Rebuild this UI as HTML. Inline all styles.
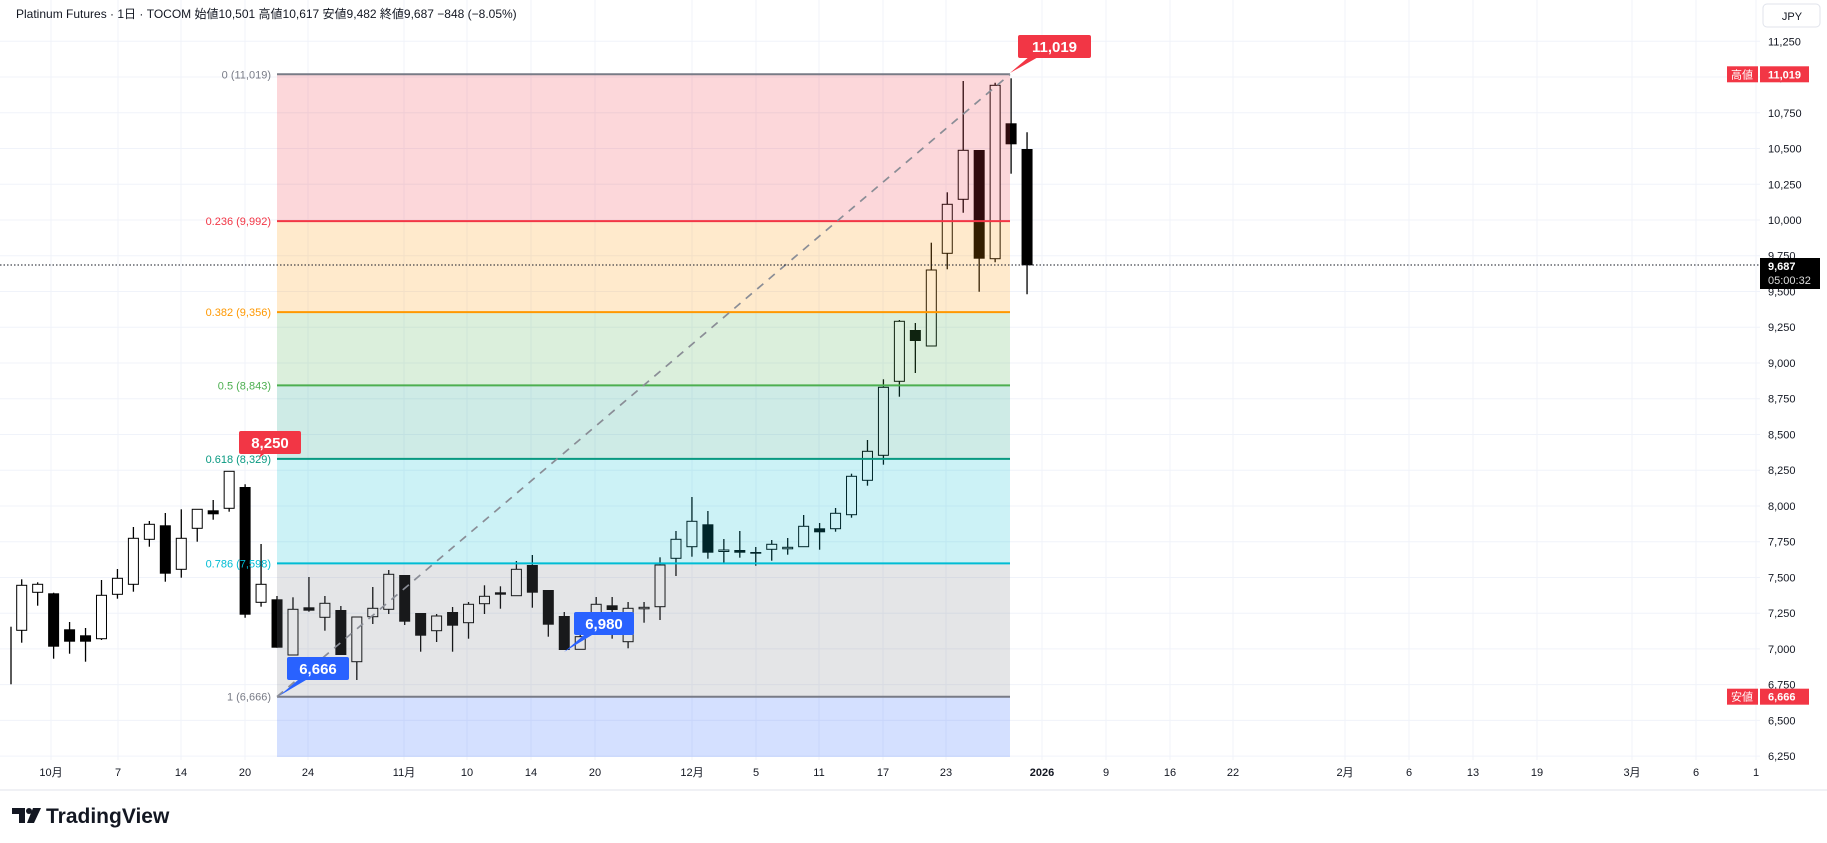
<!DOCTYPE html>
<html><head><meta charset="utf-8"><style>
html,body{margin:0;padding:0;background:#fff;width:1827px;height:843px;overflow:hidden}
svg{display:block;font-family:"Liberation Sans","Noto Sans CJK JP",sans-serif}
</style></head><body>
<svg id="s" width="1827" height="843" xmlns="http://www.w3.org/2000/svg"></svg>
<script>
const s=document.getElementById('s');let h='';
const Y=p=>74.3+(11019-p)*0.14298;
const X=i=>21.7+15.958*i;
for(let p=6250;p<=11250;p+=250){const y=Y(p);h+=`<line x1="0" x2="1760" y1="${y}" y2="${y}" stroke="#f0f3fa"/>`;}
const tl=[[51,'10月'],[118,'7'],[181,'14'],[245,'20'],[308,'24'],[404,'11月'],[467,'10'],[531,'14'],[595,'20'],[692,'12月'],[756,'5'],[819,'11'],[883,'17'],[946,'23'],[1042,'2026'],[1106,'9'],[1170,'16'],[1233,'22'],[1345,'2月'],[1409,'6'],[1473,'13'],[1537,'19'],[1632,'3月'],[1696,'6'],[1756,'1']];
tl.forEach(([x,t])=>{h+=`<line x1="${x}" x2="${x}" y1="0" y2="760" stroke="#f0f3fa"/>`;h+=`<text x="${x}" y="776" font-size="11" text-anchor="middle" fill="#131722" ${t=='2026'?'font-weight="bold"':''}>${t}</text>`;});
h+=`<line x1="0" x2="1827" y1="790" y2="790" stroke="#e0e3eb"/>`;
const c=[[0,585.3,630.3,579.3,642.7,1],[1,584.3,592.3,582.3,605.7,1],[2,593.3,646.7,592.7,658.7,0],[3,629.3,641.7,622,653.7,0],[4,635.3,641.7,628,661.7,0],[5,595.3,638.7,580,640,1],[6,578.3,594.3,569,598.7,1],[7,538.3,584.3,527,591.7,1],[8,524.3,539.3,521,546.7,1],[9,525.3,573.7,513,581.7,0],[10,538.3,569.3,509.3,577.7,1],[11,509.3,528.3,509.3,541.7,1],[12,510.3,514.3,500,519.7,0],[13,471.3,508.3,471.3,511.7,1],[14,487,614.7,484.3,617.7,0],[15,584.3,602.3,544,606.7,1],[16,599.3,647.7,596,647.7,0],[17,609.3,655,597.3,655,1],[18,607.3,610.7,577,611.7,0],[19,603.3,617.3,596,630.7,1],[20,610,655,606,655,0],[21,617,661.7,617,680,1],[22,608.3,616.7,587,624,1],[23,574.3,609.3,570,614,1],[24,575,621.7,575,625,0],[25,613,635.7,613,651.7,0],[26,616,630.7,614,642,1],[27,612,625.7,607,651.7,0],[28,604.3,622.7,602,638.7,1],[29,596.3,603.7,585.3,614,1],[30,592.3,594.7,586.3,608.7,0],[31,569.3,595.7,561,595.7,1],[32,565,592.7,555,607.7,0],[33,590,624.7,590,636.7,0],[34,616,650,612,650,0],[35,636.7,649.3,630,649.3,1],[36,604.3,618,597,625,1],[37,605.3,610,597,638.7,0],[38,608.3,641.7,602,648.3,1],[39,607.3,607.8,602,622.7,1],[40,565,606.7,557.3,620,1],[41,539.3,558.3,531,576,1],[42,521.3,546.7,497,556.7,1],[43,524.3,552.7,511,558.7,0],[44,550,550.5,539,562.7,1],[45,550,552.7,531,557.7,0],[46,552,553.7,547,565.7,0],[47,544.3,549.3,540,560.7,1],[48,547.3,547.8,538,554.7,1],[49,526.3,546.7,515,546.7,1],[50,528.3,532.3,523,549.7,0],[51,513.3,528.7,508,531.7,1],[52,476.3,514.7,473.7,517.7,1],[53,451.3,480.3,440,485.7,1],[54,387.3,455.3,379.3,464.7,1],[55,321.3,381.3,320,396.7,1],[56,330,341,323,373,0],[57,270,346,242.7,346,1],[58,204.3,253.3,192.3,269.3,1],[59,150.3,199.3,81,212.7,1],[60,150,258.7,150,291.7,0],[61,85.3,258.7,82.7,262.3,1],[62,123.3,144.3,78.3,173.7,0],[63,149,265.3,132.3,294.3,0]];
h+=`<line x1="11" x2="11" y1="626.7" y2="684.3" stroke="#000" stroke-width="1.3"/>`;
c.forEach(([i,t,b,hi,lo,u])=>{const x=X(i);h+=`<line x1="${x}" x2="${x}" y1="${hi}" y2="${lo}" stroke="#000" stroke-width="1.3"/>`;
const bh=Math.max(b-t,1.5);
if(u)h+=`<rect x="${x-5}" y="${t}" width="10" height="${bh}" fill="#fff" stroke="#000" stroke-width="1"/>`;else h+=`<rect x="${x-5.5}" y="${t}" width="11" height="${bh}" fill="#000"/>`;});
const x1=277,x2=1010;
const lv=[[0,11019,'#787b86','0 (11,019)'],[0.236,9992,'#f23645','0.236 (9,992)'],[0.382,9356,'#ff9800','0.382 (9,356)'],[0.5,8843,'#4caf50','0.5 (8,843)'],[0.618,8329,'#089981','0.618 (8,329)'],[0.786,7598,'#00bcd4','0.786 (7,598)'],[1,6666,'#787b86','1 (6,666)']];
const fills=['#f23645','#ff9800','#4caf50','#089981','#00bcd4','#787b86'];
for(let k=0;k<6;k++){const a=Y(lv[k][1]),b=Y(lv[k+1][1]);h+=`<rect x="${x1}" y="${a}" width="${x2-x1}" height="${b-a}" fill="${fills[k]}" fill-opacity="0.2"/>`;}
h+=`<rect x="${x1}" y="${Y(6666)}" width="${x2-x1}" height="${757-Y(6666)}" fill="#2962ff" fill-opacity="0.2"/>`;
lv.forEach(([r,p,col,t])=>{const y=Y(p);h+=`<line x1="${x1}" x2="${x2}" y1="${y}" y2="${y}" stroke="${col}" stroke-width="2"/>`;h+=`<text x="${x1-6}" y="${y+4}" font-size="11" text-anchor="end" fill="${col}">${t}</text>`;});
h+=`<line x1="${x1}" y1="${Y(6666)}" x2="${x2}" y2="${Y(11019)}" stroke="#8a8d96" stroke-width="1.7" stroke-dasharray="8,7"/>`;
function lab(x,y,w,t,col){h+=`<rect x="${x}" y="${y}" width="${w}" height="23" rx="2" fill="${col}"/><text x="${x+w/2}" y="${y+17}" font-size="15" font-weight="bold" text-anchor="middle" fill="#fff">${t}</text>`;}
h+=`<polygon points="1010,73 1030,56 1040,56" fill="#f23645"/>`;lab(1018,35,73,'11,019','#f23645');
h+=`<polygon points="262,451 268,451 259,458" fill="#f23645"/>`;lab(239,431,62,'8,250','#f23645');
h+=`<polygon points="279,696 298,680 306,680" fill="#2962ff"/>`;lab(287,657,62,'6,666','#2962ff');
h+=`<polygon points="564,652 584,635 592,635" fill="#2962ff"/>`;lab(574,612,60,'6,980','#2962ff');
h+=`<line x1="0" x2="1760" y1="265" y2="265" stroke="#131722" stroke-dasharray="1.5,2"/>`;
for(let p=6250;p<=11250;p+=250){h+=`<text x="1768" y="${Y(p)+4}" font-size="11" fill="#131722">${p.toLocaleString('en-US')}</text>`;}
h+=`<rect x="1763" y="4" width="57" height="23" rx="4" fill="#fff" stroke="#e0e3eb"/><text x="1792" y="20" font-size="11" fill="#131722" text-anchor="middle">JPY</text>`;
function pl(y,t1,t2){h+=`<rect x="1727" y="${y-8}" width="31" height="16" fill="#f23645"/><text x="1742" y="${y+4}" font-size="11" fill="#fff" text-anchor="middle">${t1}</text><rect x="1760" y="${y-8}" width="49" height="16" fill="#f23645"/><text x="1768" y="${y+4}" font-size="11" font-weight="bold" fill="#fff">${t2}</text>`;}
pl(Y(11019),'高値','11,019');pl(Y(6666),'安値','6,666');
h+=`<rect x="1760" y="258" width="60" height="31" fill="#000"/><text x="1768" y="270" font-size="11" font-weight="bold" fill="#fff">9,687</text><text x="1768" y="284" font-size="11" fill="#ddd">05:00:32</text>`;
h+=`<text x="16" y="18" font-size="12" fill="#131722">Platinum Futures · 1日 · TOCOM  始値10,501  高値10,617  安値9,482  終値9,687  −848 (−8.05%)</text>`;
h+=`<path d="M12 808h13v15h-6v-9h-7z" fill="#131722"/><circle cx="29" cy="811" r="3" fill="#131722"/><path d="M33 808h8l-7 15h-7z" fill="#131722"/>`;
h+=`<text x="46" y="823" font-size="21" font-weight="bold" fill="#131722">TradingView</text>`;
s.innerHTML=h;
</script>
</body></html>
